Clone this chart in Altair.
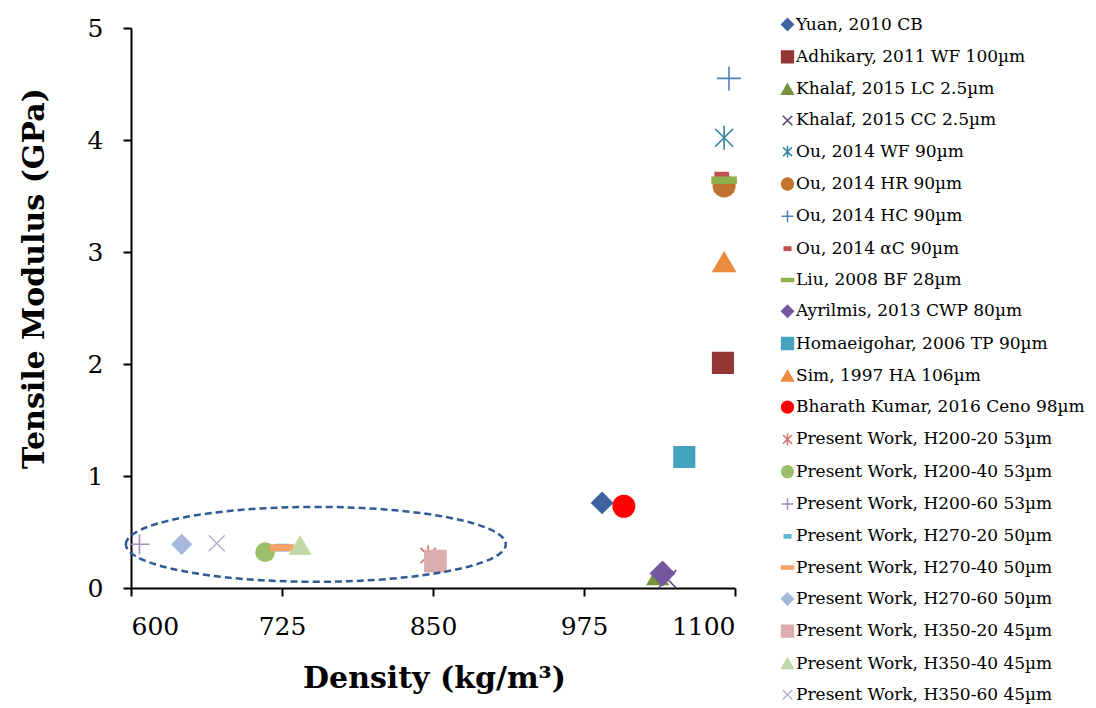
import altair as alt
import pandas as pd

series = [
    "Yuan, 2010 CB",
    "Adhikary, 2011 WF 100µm",
    "Khalaf, 2015 LC 2.5µm",
    "Khalaf, 2015 CC 2.5µm",
    "Ou, 2014 WF 90µm",
    "Ou, 2014 HR 90µm",
    "Ou, 2014 HC 90µm",
    "Ou, 2014 αC 90µm",
    "Liu, 2008 BF 28µm",
    "Ayrilmis, 2013 CWP 80µm",
    "Homaeigohar, 2006 TP 90µm",
    "Sim, 1997 HA 106µm",
    "Bharath Kumar, 2016 Ceno 98µm",
    "Present Work, H200-20 53µm",
    "Present Work, H200-40 53µm",
    "Present Work, H200-60 53µm",
    "Present Work, H270-20 50µm",
    "Present Work, H270-40 50µm",
    "Present Work, H270-60 50µm",
    "Present Work, H350-20 45µm",
    "Present Work, H350-40 45µm",
    "Present Work, H350-60 45µm",
]
density = [990, 1090, 1036, 1044, 1091, 1091, 1095, 1089, 1091, 1040, 1058, 1091, 1008,
           846, 711, 607, 725, 725, 642, 852, 740, 671]
modulus = [0.76, 2.01, 0.11, 0.08, 4.02, 3.59, 4.55, 3.68, 3.64, 0.13, 1.17, 2.91, 0.73,
           0.29, 0.32, 0.39, 0.36, 0.36, 0.39, 0.24, 0.38, 0.40]
colors = ["#3E64A0", "#953735", "#77933C", "#604A7B", "#31849B", "#C0722F", "#4F81BD",
          "#C0504D", "#8DB04C", "#7558A0", "#46A3BE", "#EB8B3E", "#FF0000",
          "#D0706C", "#9DBE6A", "#A08DBD", "#5FB8D2", "#F7A36A", "#A5B8DC",
          "#DBADAD", "#C3D8A8", "#B9B1D3"]

PLUS = "M-1,0L1,0M0,-1L0,1"
XMARK = "M-0.8,-0.8L0.8,0.8M-0.8,0.8L0.8,-0.8"
STAR = "M-0.75,-0.75L0.75,0.75M-0.75,0.75L0.75,-0.75M0,-1L0,1"
DASH = "M-1,-0.25L1,-0.25L1,0.25L-1,0.25Z"
SDASH = "M-0.55,-0.28L0.55,-0.28L0.55,0.28L-0.55,0.28Z"
shapes = ["diamond", "square", "triangle-up", XMARK, STAR, "circle", PLUS, SDASH, DASH,
          "diamond", "square", "triangle-up", "circle",
          STAR, "circle", PLUS, SDASH, DASH, "diamond", "square", "triangle-up", XMARK]
sizes = [420, 420, 420, 500, 576, 460, 576, 576, 576, 560, 420, 480, 460,
         420, 330, 400, 484, 484, 360, 440, 420, 400]

ellipse_x = [753]
ellipse_y = [0.39]

df = pd.DataFrame({"series": series, "density": density, "modulus": modulus, "sz": sizes})
edf = pd.DataFrame({"x": ellipse_x, "y": ellipse_y})

SERIF = "DejaVu Serif"
xscale = alt.Scale(domain=[600, 1100], nice=False, zero=False)
yscale = alt.Scale(domain=[0, 5], nice=False)
cscale = alt.Scale(domain=series, range=colors)
legend = alt.Legend(
    title=None, orient="none", legendX=648, legendY=-12,
    labelFont=SERIF, labelFontSize=17, labelColor="#000000", labelLimit=400,
    symbolSize=140, symbolStrokeWidth=1.5, rowPadding=13.3, labelOffset=0,
)

points = alt.Chart(df).mark_point(strokeWidth=1.6, opacity=1, fillOpacity=1).encode(
    x=alt.X("density:Q", scale=xscale,
            axis=alt.Axis(values=[600, 725, 850, 975, 1100], title="Density (kg/m³)",
                          format="d", titleBaseline="alphabetic", titleY=99, titleX=303)),
    y=alt.Y("modulus:Q", scale=yscale,
            axis=alt.Axis(values=[0, 1, 2, 3, 4, 5], title="Tensile Modulus (GPa)",
                          format="d", titleBaseline="alphabetic", titleX=-88, titleY=250,
                          titleAngle=270)),
    fill=alt.Fill("series:N", scale=cscale, legend=legend, sort=series),
    stroke=alt.Stroke("series:N", scale=cscale, legend=legend, sort=series),
    shape=alt.Shape("series:N", scale=alt.Scale(domain=series, range=shapes), legend=legend,
                    sort=series),
    size=alt.Size("sz:Q", scale=None, legend=None),
    order=alt.Order("idx:Q"),
).transform_window(idx="row_number()")

ellipse = alt.Chart(edf).mark_point(
    shape="M-1,0A1,0.197,0,1,1,1,0A1,0.197,0,1,1,-1,0Z",
    size=144400, filled=False, stroke="#2F5B93", strokeWidth=2.5, strokeDash=[7, 4],
    opacity=1,
).encode(
    x=alt.X("x:Q", scale=xscale),
    y=alt.Y("y:Q", scale=yscale),
)

chart = alt.layer(points, ellipse).properties(
    width=604, height=560,
    autosize=alt.AutoSizeParams(type="none"),
    padding={"left": 131, "top": 28, "right": 361, "bottom": 120},
    background="white",
).configure_view(stroke=None).configure_axis(
    grid=False, domainColor="#000000", domainWidth=2, tickColor="#000000", tickWidth=2,
    tickSize=8, labelFont=SERIF, labelFontSize=25, labelColor="#000000",
    titleFont=SERIF, titleFontSize=30, titleFontWeight="bold", titleColor="#000000",
).configure_axisX(labelPadding=18).configure_axisY(labelPadding=20)

chart.save("out.html", embed_options={"renderer": "svg", "actions": False})
